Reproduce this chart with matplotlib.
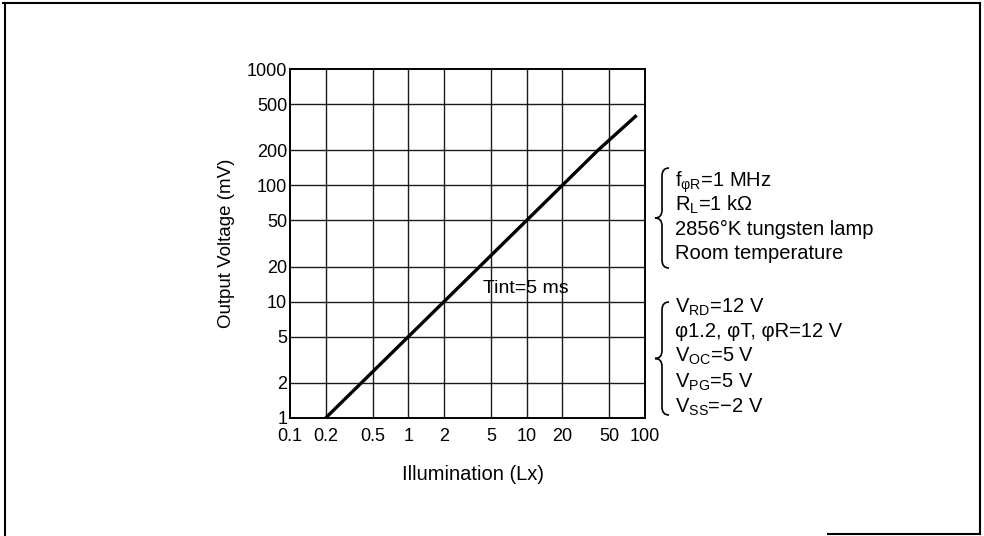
import matplotlib
matplotlib.use('Agg')
import matplotlib.pyplot as plt
from matplotlib.lines import Line2D
from matplotlib.path import Path
from matplotlib.patches import PathPatch

# values
illum = [0.2, 0.4, 1.0, 2.0, 4.0, 5.0, 10, 20, 40, 85]         # Lx
volt = [1, 2, 5, 10, 20, 25, 50, 100, 200, 400]                # mV

x_ticks = [0.1, 0.2, 0.5, 1, 2, 5, 10, 20, 50, 100]
x_labels = ['0.1', '0.2', '0.5', '1', '2', '5', '10', '20', '50', '100']
y_ticks = [1, 2, 5, 10, 20, 50, 100, 200, 500, 1000]
y_labels = ['1', '2', '5', '10', '20', '50', '100', '200', '500', '1000']

cond_top = [r'f$_\mathrm{φR}$=1 MHz', r'R$_\mathrm{L}$=1 kΩ',
            '2856°K tungsten lamp', 'Room temperature']
cond_bot = [r'V$_\mathrm{RD}$=12 V', 'φ1.2, φT, φR=12 V', r'V$_\mathrm{OC}$=5 V',
            r'V$_\mathrm{PG}$=5 V', r'V$_\mathrm{SS}$=−2 V']

plt.rcParams['font.family'] = ['Liberation Sans', 'DejaVu Sans']
plt.rcParams['mathtext.fontset'] = 'custom'
plt.rcParams['mathtext.rm'] = 'Liberation Sans'
plt.rcParams['mathtext.it'] = 'Liberation Sans:italic'
plt.rcParams['mathtext.bf'] = 'Liberation Sans:bold'

W, H = 984, 536
fig = plt.figure(figsize=(W / 100, H / 100), dpi=100)
ax = fig.add_axes([290 / W, 1 - 418 / H, 355 / W, 349 / H])

ax.set_xscale('log')
ax.set_yscale('log')
ax.set_xlim(0.1, 100)
ax.set_ylim(1, 1000)

for xv in x_ticks[1:-1]:
    ax.axvline(xv, color='#1a1a1a', lw=1.0, zorder=1)
for yv in y_ticks[1:-1]:
    ax.axhline(yv, color='#1a1a1a', lw=1.0, zorder=1)

ax.plot(illum, volt, color='black', lw=2.4, solid_capstyle='butt', zorder=3)

ax.set_xticks(x_ticks)
ax.set_xticklabels(x_labels)
ax.set_yticks(y_ticks)
ax.set_yticklabels(y_labels)
ax.minorticks_off()
ax.tick_params(axis='both', length=0, labelsize=13)
ax.tick_params(axis='x', pad=7)
ax.tick_params(axis='y', pad=2)
for sp in ax.spines.values():
    sp.set_linewidth(1.4)
    sp.set_color('black')

ax.set_ylabel('Output Voltage (mV)', fontsize=13.5)
ax.yaxis.set_label_coords(-0.155, 0.5)
ax.set_xlabel('Illumination (Lx)', fontsize=14.5)
ax.xaxis.set_label_coords(0.515, -0.135)

ax.text(4.3, 13, 'Tint=5 ms', fontsize=14, ha='left', va='center', zorder=4)

# condition notes on the right
def px(x, y):
    return x / W, 1 - y / H

for txt, yb in zip(cond_top, [187, 211, 235, 259]):
    fig.text(*px(675, yb), txt, fontsize=14.5, ha='left', va='baseline')
for txt, yb in zip(cond_bot, [313, 337, 362, 388, 413]):
    fig.text(*px(675, yb), txt, fontsize=14.5, ha='left', va='baseline')


def brace(y_top, y_bot, x_body=662, x_tip=655, x_end=669):
    ym = (y_top + y_bot) / 2
    pts = [(x_end, y_top), (x_body, y_top), (x_body, y_top + 8),
           (x_body, ym - 8), (x_body, ym), (x_tip, ym),
           (x_body, ym), (x_body, ym + 8),
           (x_body, y_bot - 8), (x_body, y_bot), (x_end, y_bot)]
    codes = [Path.MOVETO, Path.CURVE3, Path.CURVE3,
             Path.LINETO, Path.CURVE3, Path.CURVE3,
             Path.CURVE3, Path.CURVE3,
             Path.LINETO, Path.CURVE3, Path.CURVE3]
    verts = [px(a, b) for a, b in pts]
    fig.add_artist(PathPatch(Path(verts, codes), fill=False, lw=1.2,
                             edgecolor='black', transform=fig.transFigure))

brace(168, 268)
brace(302, 415)

# outer frame of the scanned page
for xs, ys in [([5, 5], [3, 536]), ([3, 980], [3, 3]), ([980, 980], [3, 534]),
               ([828, 980], [534, 534])]:
    fig.add_artist(Line2D([v / W for v in xs], [1 - v / H for v in ys],
                          color='black', lw=1.5, transform=fig.transFigure))

fig.savefig('out.png', dpi=100)
